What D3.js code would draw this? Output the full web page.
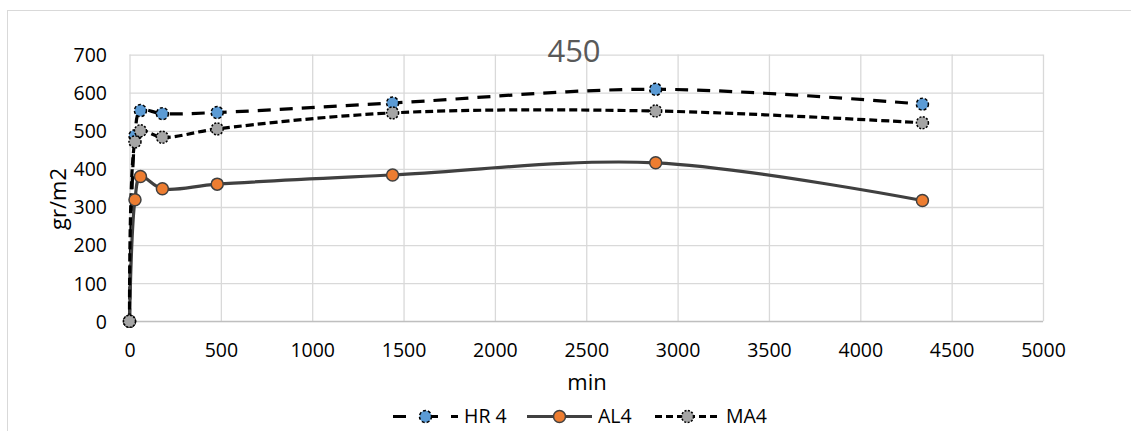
<!DOCTYPE html>
<html>
<head>
<meta charset="utf-8">
<style>
  body { margin: 0; background: #fff; }
  svg { display: block; font-family: "Open Sans", sans-serif; }
</style>
</head>
<body>
<svg width="1131" height="431"></svg>
<script src="https://d3js.org/d3.v7.min.js"></script>
<script>

// values
var times = [0, 30, 60, 180, 480, 1440, 2880, 4340];
var hr4 = [0, 487, 553, 545, 548, 573, 609, 570];
var al4 = [0, 319, 380, 348, 360, 384, 416, 317];
var ma4 = [0, 471, 500, 483, 505, 547, 552, 521];
var xTicks = [0, 500, 1000, 1500, 2000, 2500, 3000, 3500, 4000, 4500, 5000];
var yTicks = [0, 100, 200, 300, 400, 500, 600, 700];

var series = [
  {name: "HR 4", values: hr4, line: "#000", dash: "13,9", fill: "#5b9bd5", mdash: "3,2"},
  {name: "AL4", values: al4, line: "#404040", dash: null, fill: "#ed7d31", mdash: null},
  {name: "MA4", values: ma4, line: "#000", dash: "8,4", fill: "#a5a5a5", mdash: "2,1.5"}
];

var svg = d3.select("svg");

var x = d3.scaleLinear().domain([0, 5000]).range([129.5, 1043]);
var y = d3.scaleLinear().domain([0, 700]).range([321.3, 54.6]);

// chart border
svg.append("rect")
    .attr("x", 7.5).attr("y", 10.5)
    .attr("width", 1140).attr("height", 440)
    .attr("fill", "none").attr("stroke", "#d9d9d9");

// grid
svg.append("g")
    .attr("transform", "translate(" + x.range()[0] + ",0)")
    .call(d3.axisLeft(y).tickValues(yTicks).tickSize(-(x.range()[1] - x.range()[0])).tickFormat(""))
    .call(function(g) {
      g.select(".domain").remove();
      g.selectAll("line").attr("stroke", "#d9d9d9").attr("stroke-width", 1.3);
    });

svg.append("g")
    .attr("transform", "translate(0," + y.range()[0] + ")")
    .call(d3.axisBottom(x).tickValues(xTicks).tickSize(-(y.range()[0] - y.range()[1])).tickFormat(""))
    .call(function(g) {
      g.select(".domain").remove();
      g.selectAll("line").attr("stroke", "#d9d9d9").attr("stroke-width", 1.3);
    });

// bottom axis line
svg.append("line")
    .attr("x1", x.range()[0]).attr("x2", x.range()[1])
    .attr("y1", y(0)).attr("y2", y(0))
    .attr("stroke", "#bfbfbf").attr("stroke-width", 1.3);

// tick labels
svg.append("g")
    .attr("transform", "translate(0," + y.range()[0] + ")")
    .call(d3.axisBottom(x).tickValues(xTicks).tickSize(0).tickPadding(0).tickFormat(d3.format("d")))
    .call(function(g) {
      g.select(".domain").remove();
      g.selectAll("text").attr("font-family", "Open Sans").attr("font-size", 19.5)
        .attr("fill", "#000").attr("dy", null).attr("y", 36);
    });

svg.append("g")
    .attr("transform", "translate(107,0)")
    .call(d3.axisLeft(y).tickValues(yTicks).tickSize(0).tickPadding(0).tickFormat(d3.format("d")))
    .call(function(g) {
      g.select(".domain").remove();
      g.selectAll("text").attr("font-family", "Open Sans").attr("font-size", 19.5)
        .attr("fill", "#000").attr("x", 0).attr("dy", "0.35em");
    });

// titles
svg.append("text")
    .attr("x", 574).attr("y", 62)
    .attr("text-anchor", "middle")
    .attr("font-size", 31).attr("fill", "#595959")
    .text("450");

svg.append("text")
    .attr("x", 587).attr("y", 390)
    .attr("text-anchor", "middle")
    .attr("font-size", 22).attr("fill", "#000")
    .text("min");

svg.append("text")
    .attr("transform", "translate(66,199) rotate(-90)")
    .attr("text-anchor", "middle")
    .attr("font-size", 22).attr("fill", "#000")
    .text("gr/m2");

// lines
var line = d3.line()
    .x(function(d) { return x(d[0]); })
    .y(function(d) { return y(d[1]); })
    .curve(d3.curveCatmullRom.alpha(0.5));

series.forEach(function(s) {
  var pts = times.map(function(t, i) { return [t, s.values[i]]; });
  svg.append("path")
      .datum(pts)
      .attr("d", line)
      .attr("fill", "none")
      .attr("stroke", s.line)
      .attr("stroke-width", 3.2)
      .attr("stroke-dasharray", s.dash);
});

series.forEach(function(s) {
  var pts = times.map(function(t, i) { return [t, s.values[i]]; });
  svg.append("g").selectAll("circle")
      .data(pts)
      .enter().append("circle")
      .attr("cx", function(d) { return x(d[0]); })
      .attr("cy", function(d) { return y(d[1]); })
      .attr("r", 6)
      .attr("fill", s.fill)
      .attr("stroke", s.mdash ? "#000" : "#404040")
      .attr("stroke-width", 1.5)
      .attr("stroke-dasharray", s.mdash);
});

// legend
var legX = [393, 527, 655];
var legend = svg.append("g").attr("transform", "translate(0,416.5)");
series.forEach(function(s, i) {
  var g = legend.append("g").attr("transform", "translate(" + legX[i] + ",0)");
  g.append("line")
      .attr("x1", 0).attr("x2", 65)
      .attr("stroke", s.line).attr("stroke-width", 3.2)
      .attr("stroke-dasharray", s.dash ? (i == 0 ? "13,19,13" : "7,4") : null);
  g.append("circle")
      .attr("cx", 32.5).attr("r", 6)
      .attr("fill", s.fill)
      .attr("stroke", s.mdash ? "#000" : "#404040")
      .attr("stroke-width", 1.5)
      .attr("stroke-dasharray", s.mdash);
  g.append("text")
      .attr("x", 71).attr("y", 6.5)
      .attr("font-size", 19.5).attr("fill", "#000")
      .text(s.name);
});

</script>
</body>
</html>
